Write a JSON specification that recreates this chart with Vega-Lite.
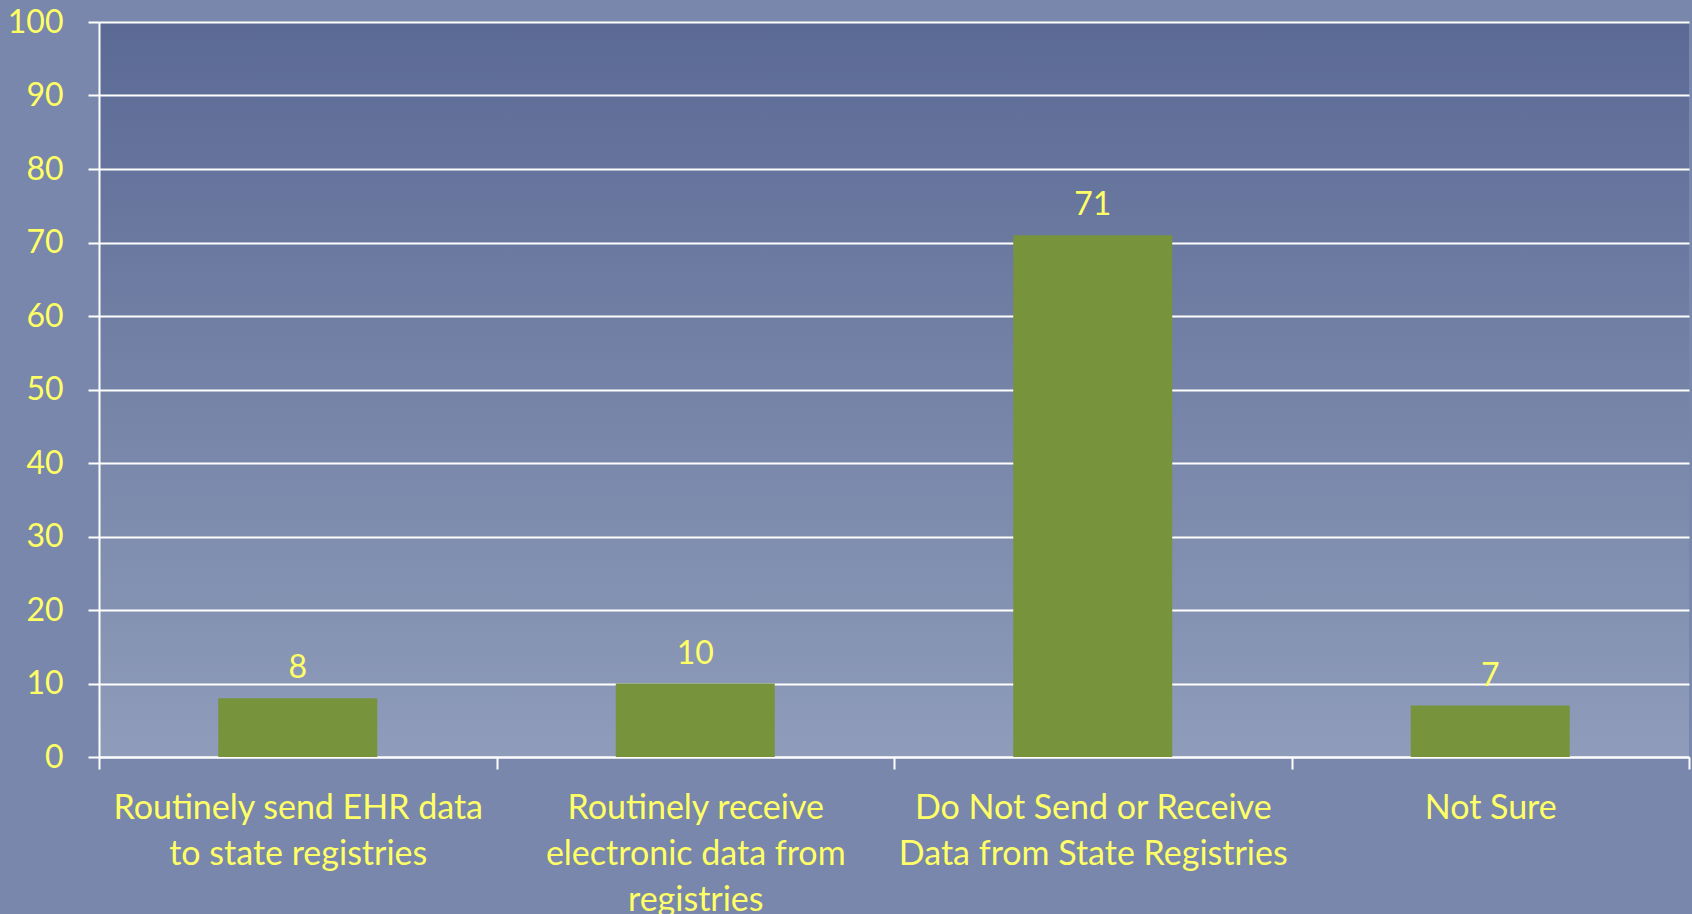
{
  "$schema": "https://vega.github.io/schema/vega-lite/v6.json",
  "width": 1590,
  "height": 735,
  "autosize": {"type": "none"},
  "padding": {"left": 99, "top": 22, "right": 3, "bottom": 157},
  "background": "#7887ab",
  "config": {
    "font": "Lato",
    "view": {
      "stroke": null,
      "fill": {
        "gradient": "linear",
        "x1": 0, "y1": 0, "x2": 0, "y2": 1,
        "stops": [
          {"offset": 0, "color": "#5b6a95"},
          {"offset": 1, "color": "#8f9cba"}
        ]
      }
    }
  },
  "data": {
    "values": [
      {"category": "Routinely send EHR data to state registries", "value": 8},
      {"category": "Routinely receive electronic data from registries", "value": 10},
      {"category": "Do Not Send or Receive Data from State Registries", "value": 71},
      {"category": "Not Sure", "value": 7}
    ]
  },
  "encoding": {
    "x": {
      "field": "category",
      "type": "nominal",
      "sort": null,
      "scale": {"paddingInner": 0, "paddingOuter": 0},
      "axis": {
        "title": null,
        "labelAngle": 0,
        "labelFont": "Lato",
        "labelFontSize": 34,
        "labelColor": "#ffff66",
        "labelLineHeight": 46,
        "labelBaseline": "top",
        "labelPadding": 22,
        "labelLimit": 500,
        "labelOverlap": false,
        "tickBand": "extent",
        "tickSize": 12,
        "tickWidth": 2,
        "tickColor": "white",
        "domainColor": "white",
        "domainWidth": 2,
        "labelExpr": "datum.value == 'Routinely send EHR data to state registries' ? ['Routinely send EHR data', 'to state registries'] : datum.value == 'Routinely receive electronic data from registries' ? ['Routinely receive', 'electronic data from', 'registries'] : datum.value == 'Do Not Send or Receive Data from State Registries' ? ['Do Not Send or Receive', 'Data from State Registries'] : datum.value"
      }
    },
    "y": {
      "field": "value",
      "type": "quantitative",
      "scale": {"domain": [0, 100]},
      "axis": {
        "title": null,
        "values": [0, 10, 20, 30, 40, 50, 60, 70, 80, 90, 100],
        "labelFont": "Lato",
        "labelFontSize": 32,
        "labelColor": "#ffff66",
        "labelPadding": 25,
        "labelFlush": false,
        "tickSize": 11,
        "tickWidth": 2,
        "tickColor": "white",
        "domainColor": "white",
        "domainWidth": 2,
        "grid": true,
        "gridColor": "white",
        "gridWidth": 2,
        "gridOpacity": 1
      }
    }
  },
  "layer": [
    {"mark": {"type": "bar", "color": "#77933c", "width": {"band": 0.4}}},
    {
      "mark": {"type": "text", "color": "#ffff66", "fontSize": 32, "font": "Lato", "baseline": "alphabetic", "dy": -20},
      "encoding": {"text": {"field": "value", "type": "quantitative"}}
    }
  ]
}
